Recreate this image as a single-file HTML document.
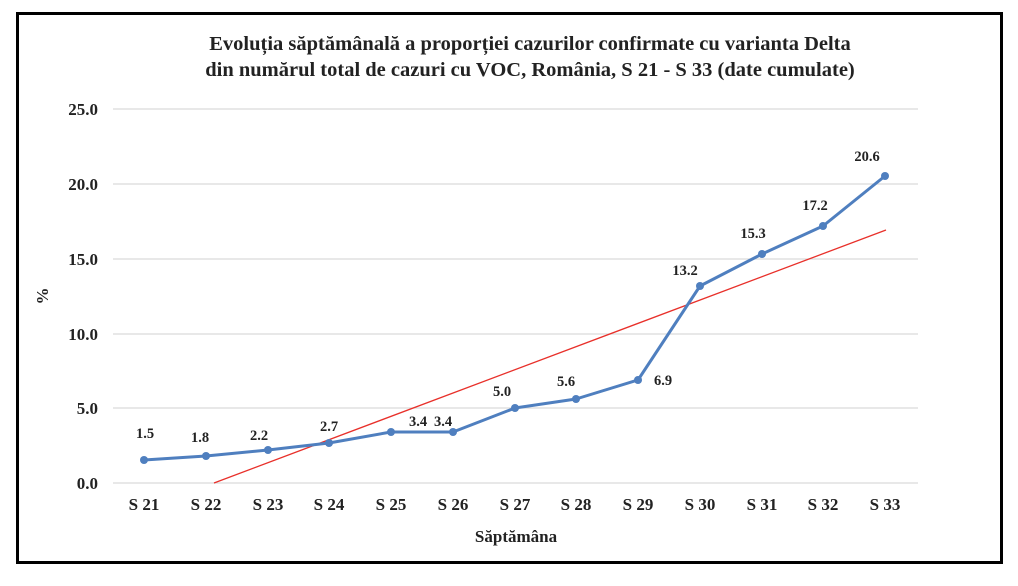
<!DOCTYPE html>
<html><head><meta charset="utf-8"><style>
body{margin:0;background:#fff;}
svg text{font-family:"Liberation Serif",serif;font-weight:bold;fill:#222;}
</style></head><body>
<svg width="1018" height="581" xmlns="http://www.w3.org/2000/svg">
<rect x="0" y="0" width="1018" height="581" fill="#fff"/>
<rect x="17.5" y="13.5" width="984" height="549" fill="none" stroke="#000" stroke-width="3"/>
<text x="530" y="50" font-size="20.5" text-anchor="middle">Evoluția săptămânală a proporției cazurilor confirmate cu varianta Delta</text>
<text x="530" y="76" font-size="20.5" text-anchor="middle">din numărul total de cazuri cu VOC, România, S 21 - S 33 (date cumulate)</text>
<g stroke="#d9d9d9" stroke-width="1.2">
<line x1="113" x2="918" y1="109" y2="109"/><line x1="113" x2="918" y1="184" y2="184"/>
<line x1="113" x2="918" y1="259" y2="259"/><line x1="113" x2="918" y1="334" y2="334"/>
<line x1="113" x2="918" y1="408" y2="408"/><line x1="113" x2="918" y1="483" y2="483"/>
</g>
<g font-size="17" text-anchor="end">
<text x="98" y="115">25.0</text><text x="98" y="190">20.0</text><text x="98" y="265">15.0</text>
<text x="98" y="340">10.0</text><text x="98" y="414">5.0</text><text x="98" y="489">0.0</text>
</g>
<text x="48" y="296" font-size="17" text-anchor="middle" transform="rotate(-90 48 296)">%</text>
<g font-size="17" text-anchor="middle">
<text x="144" y="510">S 21</text><text x="206" y="510">S 22</text><text x="268" y="510">S 23</text>
<text x="329" y="510">S 24</text><text x="391" y="510">S 25</text><text x="453" y="510">S 26</text>
<text x="515" y="510">S 27</text><text x="576" y="510">S 28</text><text x="638" y="510">S 29</text>
<text x="700" y="510">S 30</text><text x="762" y="510">S 31</text><text x="823" y="510">S 32</text>
<text x="885" y="510">S 33</text>
</g>
<text x="516" y="542" font-size="17" text-anchor="middle">Săptămâna</text>
<line x1="214" y1="483" x2="886" y2="230" stroke="#e8302a" stroke-width="1.3"/>
<polyline fill="none" stroke="#4f7fbf" stroke-width="3" stroke-linejoin="round"
points="144,460 206,456 268,450 329,443 391,432 453,432 515,408 576,399 638,380 700,286 762,254 823,226 885,176"/>
<g fill="#4f7fbf">
<circle cx="144" cy="460" r="4"/><circle cx="206" cy="456" r="4"/><circle cx="268" cy="450" r="4"/>
<circle cx="329" cy="443" r="4"/><circle cx="391" cy="432" r="4"/><circle cx="453" cy="432" r="4"/>
<circle cx="515" cy="408" r="4"/><circle cx="576" cy="399" r="4"/><circle cx="638" cy="380" r="4"/>
<circle cx="700" cy="286" r="4"/><circle cx="762" cy="254" r="4"/><circle cx="823" cy="226" r="4"/>
<circle cx="885" cy="176" r="4"/>
</g>
<g font-size="14.5" text-anchor="middle">
<text x="145" y="438">1.5</text><text x="200" y="442">1.8</text><text x="259" y="440">2.2</text>
<text x="329" y="431">2.7</text><text x="418" y="426">3.4</text><text x="443" y="426">3.4</text>
<text x="502" y="396">5.0</text><text x="566" y="386">5.6</text><text x="663" y="385">6.9</text>
<text x="685" y="275">13.2</text><text x="753" y="238">15.3</text><text x="815" y="210">17.2</text>
<text x="867" y="161">20.6</text>
</g>
</svg>
</body></html>
